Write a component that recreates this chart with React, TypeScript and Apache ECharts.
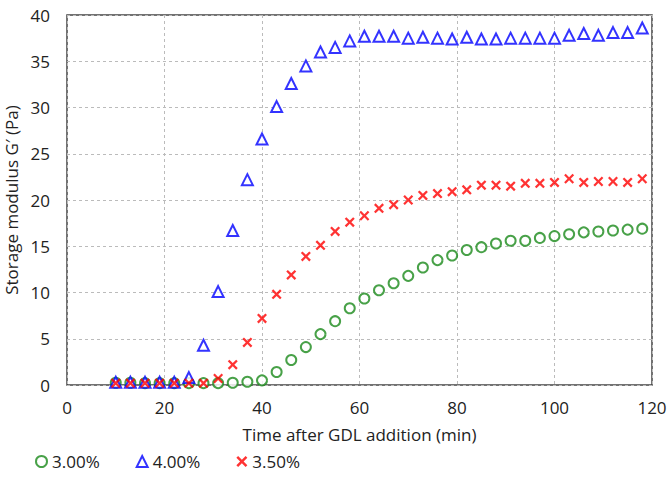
import React, { useEffect, useRef } from "react";
import * as echarts from "echarts";

const times = [10, 13, 16, 19, 22, 25, 28, 31, 34, 37, 40, 43, 46, 49, 52, 55, 58, 61, 64, 67, 70, 73, 76, 79, 82, 85, 88, 91, 94, 97, 100, 103, 106, 109, 112, 115, 118];

const g300 = [0.25, 0.25, 0.2, 0.2, 0.2, 0.2, 0.2, 0.2, 0.25, 0.35, 0.5, 1.4, 2.7, 4.1, 5.5, 6.9, 8.3, 9.35, 10.25, 11.0, 11.8, 12.7, 13.5, 14.0, 14.6, 14.9, 15.3, 15.6, 15.6, 15.9, 16.1, 16.3, 16.5, 16.6, 16.7, 16.8, 16.9];
const g400 = [0.3, 0.3, 0.3, 0.3, 0.3, 0.8, 4.3, 10.1, 16.7, 22.2, 26.6, 30.1, 32.6, 34.5, 36.0, 36.5, 37.2, 37.7, 37.7, 37.7, 37.5, 37.6, 37.5, 37.4, 37.6, 37.4, 37.4, 37.5, 37.5, 37.5, 37.5, 37.8, 38.0, 37.8, 38.1, 38.1, 38.6];
const g350 = [0.2, 0.2, 0.2, 0.2, 0.2, 0.2, 0.2, 0.7, 2.2, 4.6, 7.2, 9.8, 11.9, 13.9, 15.1, 16.6, 17.6, 18.3, 19.1, 19.5, 20.0, 20.5, 20.7, 20.9, 21.1, 21.6, 21.6, 21.5, 21.8, 21.8, 21.9, 22.3, 21.9, 22.0, 22.0, 21.9, 22.3];

const seriesNames = ["3.00%", "4.00%", "3.50%"];
const xTitle = "Time after GDL addition (min)";
const yTitle = "Storage modulus G\u2032 (Pa)";
const xTicks = { min: 0, max: 120, interval: 20 };
const yTicks = { min: 0, max: 40, interval: 5 };

const crossPath =
  "path://M0,1.6L1.6,0L5,3.4L8.4,0L10,1.6L6.6,5L10,8.4L8.4,10L5,6.6L1.6,10L0,8.4L3.4,5Z";

const FONT = "Open Sans";

export default function App() {
  const ref = useRef<HTMLDivElement>(null);
  useEffect(() => {
    if (!ref.current) return;
    const chart = echarts.init(ref.current, undefined, { renderer: "svg" });
    const pair = (ys: number[]) => times.map((t, i) => [t, ys[i]]);
    const axisText = { color: "#222", fontFamily: FONT, fontSize: 17 };
    chart.setOption({
      animation: false,
      backgroundColor: "#fff",
      textStyle: { fontFamily: FONT },
      grid: {
        left: 67,
        right: 17,
        top: 15,
        bottom: 97,
        containLabel: false,
        outerBoundsMode: "none",
        show: true,
        borderColor: "#444",
        borderWidth: 1.5,
        backgroundColor: "transparent",
      },
      legend: {
        left: 35,
        top: 453,
        padding: 0,
        itemWidth: 11,
        itemHeight: 11,
        itemGap: 36,
        textStyle: axisText,
        data: seriesNames,
      },
      xAxis: {
        type: "value",
        min: xTicks.min,
        max: xTicks.max,
        interval: xTicks.interval,
        name: xTitle,
        nameLocation: "middle",
        nameGap: 41,
        nameTextStyle: axisText,
        axisLine: { show: false },
        axisTick: { show: false },
        axisLabel: { ...axisText, margin: 14 },
        splitLine: { show: true, lineStyle: { color: "#bbb", type: [3, 3], width: 1 } },
      },
      yAxis: {
        type: "value",
        min: yTicks.min,
        max: yTicks.max,
        interval: yTicks.interval,
        name: yTitle,
        nameLocation: "middle",
        nameGap: 38,
        nameTextStyle: axisText,
        axisLine: { show: false },
        axisTick: { show: false },
        axisLabel: { ...axisText, margin: 17 },
        splitLine: { show: true, lineStyle: { color: "#bbb", type: [3, 3], width: 1 } },
      },
      series: [
        {
          name: seriesNames[0],
          type: "scatter",
          symbol: "emptyCircle",
          symbolSize: 10,
          itemStyle: { color: "#1a8a1a", borderColor: "#1a8a1a", borderWidth: 2 },
          data: pair(g300),
        },
        {
          name: seriesNames[1],
          type: "scatter",
          symbol: "emptyTriangle",
          symbolSize: 11,
          itemStyle: { color: "#0000ff", borderColor: "#0000ff", borderWidth: 2 },
          data: pair(g400),
        },
        {
          name: seriesNames[2],
          type: "scatter",
          symbol: crossPath,
          symbolSize: 10,
          itemStyle: { color: "#ff0000" },
          data: pair(g350),
        },
      ],
    });
    return () => chart.dispose();
  }, []);
  return <div ref={ref} style={{ width: 669, height: 482, position: "absolute", left: 0, top: 0 }} />;
}
